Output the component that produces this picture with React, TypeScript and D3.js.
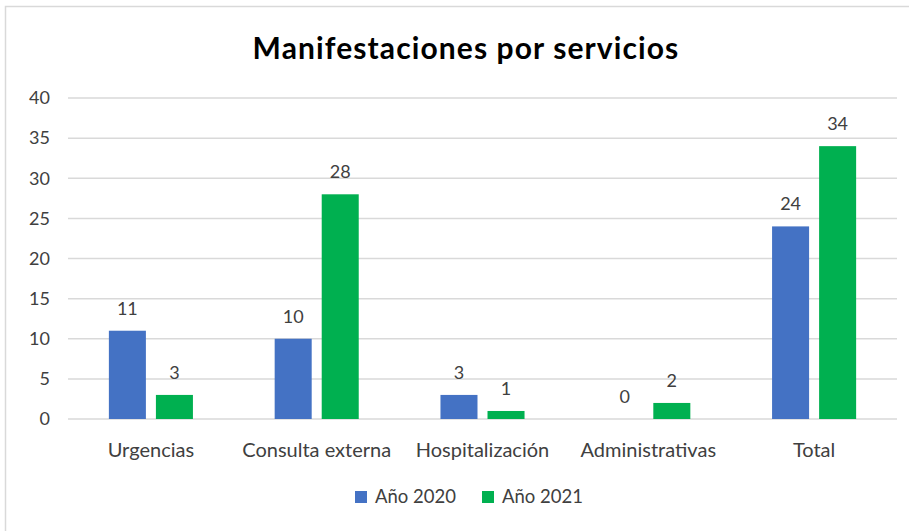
import { useMemo } from 'react';
import * as d3 from 'd3';

// datos
const categorias = ['Urgencias', 'Consulta externa', 'Hospitalización', 'Administrativas', 'Total'];
const series = ['Año 2020', 'Año 2021'];
const valores2020 = [11, 10, 3, 0, 24];
const valores2021 = [3, 28, 1, 2, 34];
const yTicks = [0, 5, 10, 15, 20, 25, 30, 35, 40];

const W = 909;
const H = 531;
const colors = ['#4472C4', '#00B050'];
const gridColor = '#d9d9d9';
const textColor = '#404040';
const font = 'Lato, "Open Sans", sans-serif';
const margin = { top: 98, right: 12, bottom: 112, left: 68 };

export default function App() {
  const gW = W - margin.left - margin.right;
  const gH = H - margin.top - margin.bottom;

  const x0 = useMemo(
    () => d3.scaleBand<string>().domain(categorias).range([0, gW]).paddingInner(0.493).paddingOuter(0.2465),
    [gW]
  );
  const x1 = useMemo(
    () => d3.scaleBand<string>().domain(series).range([0, x0.bandwidth()]).paddingInner(0.213),
    [x0]
  );
  const y = useMemo(() => d3.scaleLinear().domain([0, 40]).range([gH, 0]), [gH]);

  const rows = [valores2020, valores2021];

  return (
    <svg
      width={W}
      height={H}
      style={{ position: 'absolute', left: 0, top: 0, background: '#fff' }}
      fontFamily={font}
    >
      {/* marco del grafico */}
      <rect x={5.5} y={6.5} width={1000} height={1000} fill="#fff" stroke={gridColor} strokeWidth={1.5} />

      <text x={466} y={58.5} textAnchor="middle" fontSize={30} fontWeight="bold" letterSpacing={1.1} fill="#000">
        Manifestaciones por servicios
      </text>

      <g transform={`translate(${margin.left},${margin.top})`}>
        {yTicks.map((t) => (
          <g key={t} transform={`translate(0,${y(t)})`}>
            <line x1={0} x2={gW} stroke={gridColor} strokeWidth={1.5} />
            <text x={-18} dy="0.35em" textAnchor="end" fontSize={18} fill={textColor}>
              {t}
            </text>
          </g>
        ))}

        {categorias.map((c, i) => (
          <g key={c} transform={`translate(${x0(c)},0)`}>
            {series.map((s, j) => {
              const v = rows[j][i];
              const bx = x1(s)!;
              return (
                <g key={s}>
                  {v > 0 && (
                    <rect x={bx} y={y(v)} width={x1.bandwidth()} height={gH - y(v)} fill={colors[j]} />
                  )}
                  <text
                    x={bx + x1.bandwidth() / 2}
                    y={y(v) - 16}
                    textAnchor="middle"
                    fontSize={18}
                    fill={textColor}
                  >
                    {v}
                  </text>
                </g>
              );
            })}
            <text x={x0.bandwidth() / 2} y={gH + 38} textAnchor="middle" fontSize={20} fill={textColor}>
              {c}
            </text>
          </g>
        ))}
      </g>

      {/* leyenda */}
      <g transform="translate(355,497)">
        {series.map((s, j) => (
          <g key={s} transform={`translate(${j * 127},0)`}>
            <rect x={0} y={-6} width={12} height={12} fill={colors[j]} />
            <text x={20} dy="0.35em" fontSize={18.5} fill={textColor}>
              {s}
            </text>
          </g>
        ))}
      </g>
    </svg>
  );
}
